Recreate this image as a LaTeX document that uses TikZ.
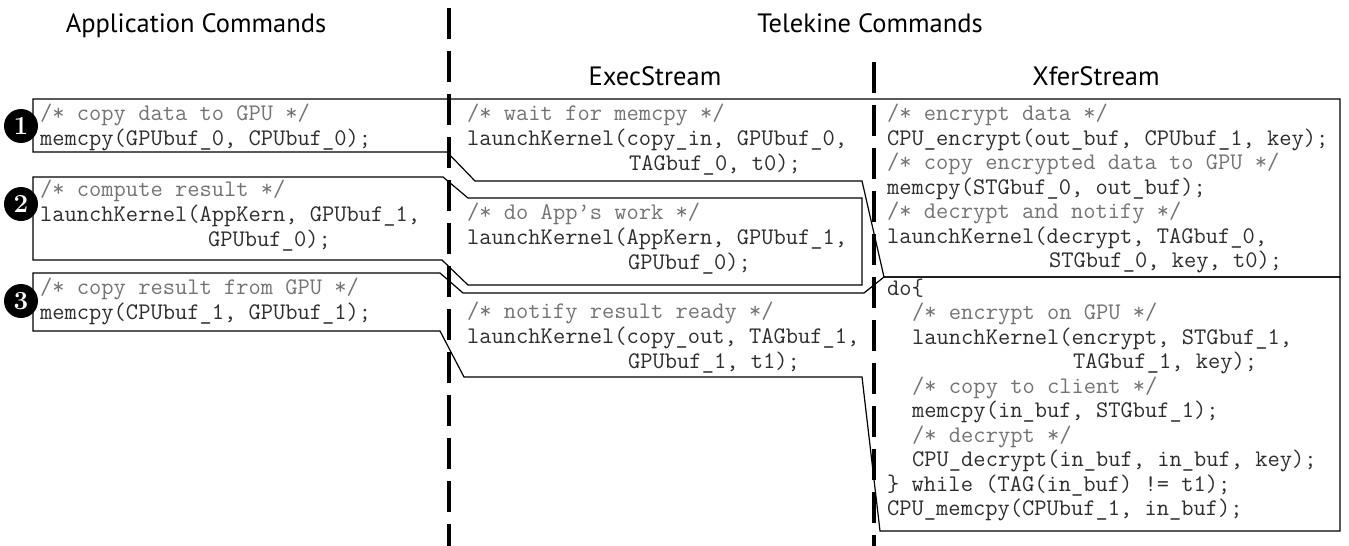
\documentclass[tikz,border=0pt]{standalone}
\usepackage{fontspec}
\newfontfamily\hdrfont{PT Sans}
\usetikzlibrary{positioning}
\definecolor{cmtgray}{RGB}{115,115,115}
\definecolor{codeblack}{RGB}{45,45,45}
\tikzset{
  cmt/.style={anchor=base west,inner sep=0pt,text=cmtgray,font=\ttfamily\fontsize{23.8}{25}\selectfont},
  code/.style={cmt,text=codeblack},
  hdr/.style={anchor=base,inner sep=0pt,font=\hdrfont\fontsize{26.5}{28}\selectfont},
  stepnum/.style={circle,fill=black,text=white,inner sep=0pt,minimum size=34pt,font=\bfseries\fontsize{26}{26}\selectfont},
  lane/.style={line width=4pt,dash pattern=on 31pt off 12pt},
  flow/.style={line width=1.2pt,line join=miter}
}

\begin{document}
\begin{tikzpicture}[x=1pt,y=-1pt]
\useasboundingbox (0,0) rectangle (1349,546);

\node[hdr] (apphdr) at (196,32) {Application Commands};
\node[hdr] (telhdr) at (870,32) {Telekine Commands};
\node[hdr] (exechdr) at (655,85) {ExecStream};
\node[hdr] (xferhdr) at (1096,85) {XferStream};

% flow regions
\draw[flow] (33,99) -- (1340,99) -- (1340,277) -- (884,277) -- (862,181) -- (475,181)
  -- (447,152) -- (33,152) -- cycle;
\draw[flow] (33,177) -- (443,177) -- (468,198) -- (862,198) -- (862,285) -- (468,285)
  -- (442,260) -- (33,260) -- cycle;
\draw[flow] (33,273) -- (440,273) -- (463,293) -- (864,293) -- (884,277) -- (1340,277)
  -- (1340,531) -- (880,531) -- (862,377) -- (464,377) -- (440,331) -- (33,331) -- cycle;

% application
\node[cmt] (a1c) at (40,120) {/* copy data to GPU */};
\node[code] (a1) at (40,145) {memcpy(GPUbuf\_0, CPUbuf\_0);};
\node[cmt] (a2c) at (40,196) {/* compute result */};
\node[code] (a2) at (40,221) {launchKernel(AppKern, GPUbuf\_1,};
\node[code] (a2b) at (208,246) {GPUbuf\_0);};
\node[cmt] (a3c) at (40,294) {/* copy result from GPU */};
\node[code] (a3) at (40,319) {memcpy(CPUbuf\_1, GPUbuf\_1);};

% exec stream
\node[cmt] (e1c) at (467,120) {/* wait for memcpy */};
\node[code] (e1) at (467,145) {launchKernel(copy\_in, GPUbuf\_0,};
\node[code] (e1b) at (629,170) {TAGbuf\_0, t0);};
\node[cmt] (e2c) at (467,219) {/* do App’s work */};
\node[code] (e2) at (467,244) {launchKernel(AppKern, GPUbuf\_1,};
\node[code] (e2b) at (628,269) {GPUbuf\_0);};
\node[cmt] (e3c) at (467,318) {/* notify result ready */};
\node[code] (e3) at (467,343) {launchKernel(copy\_out, TAGbuf\_1,};
\node[code] (e3b) at (628,368) {GPUbuf\_1, t1);};

% xfer stream
\node[cmt] (x1c) at (887,120) {/* encrypt data */};
\node[code] (x1) at (887,145) {CPU\_encrypt(out\_buf, CPUbuf\_1, key);};
\node[cmt] (x2c) at (887,169.5) {/* copy encrypted data to GPU */};
\node[code] (x2) at (887,194) {memcpy(STGbuf\_0, out\_buf);};
\node[cmt] (x3c) at (887,218.5) {/* decrypt and notify */};
\node[code] (x3) at (887,243) {launchKernel(decrypt, TAGbuf\_0,};
\node[code] (x3b) at (1049,267.5) {STGbuf\_0, key, t0);};
\node[code] (d0) at (887,295) {do\{};
\node[cmt] (d1c) at (912,319.5) {/* encrypt on GPU */};
\node[code] (d1) at (912,344) {launchKernel(encrypt, STGbuf\_1,};
\node[code] (d1b) at (1073,368.5) {TAGbuf\_1, key);};
\node[cmt] (d2c) at (912,393) {/* copy to client */};
\node[code] (d2) at (912,417.5) {memcpy(in\_buf, STGbuf\_1);};
\node[cmt] (d3c) at (912,442) {/* decrypt */};
\node[code] (d3) at (912,466.5) {CPU\_decrypt(in\_buf, in\_buf, key);};
\node[code] (d4) at (887,491) {\} while (TAG(in\_buf) != t1);};
\node[code] (d5) at (887,515.5) {CPU\_memcpy(CPUbuf\_1, in\_buf);};

% step markers
\node[stepnum] (s1) at (21,126) {1};
\node[stepnum] (s2) at (21,204) {2};
\node[stepnum] (s3) at (21,301) {3};

% stream separators
\draw[lane] (449,8) -- (449,546);
\draw[lane] (874,62) -- (874,546);
\end{tikzpicture}
\end{document}
